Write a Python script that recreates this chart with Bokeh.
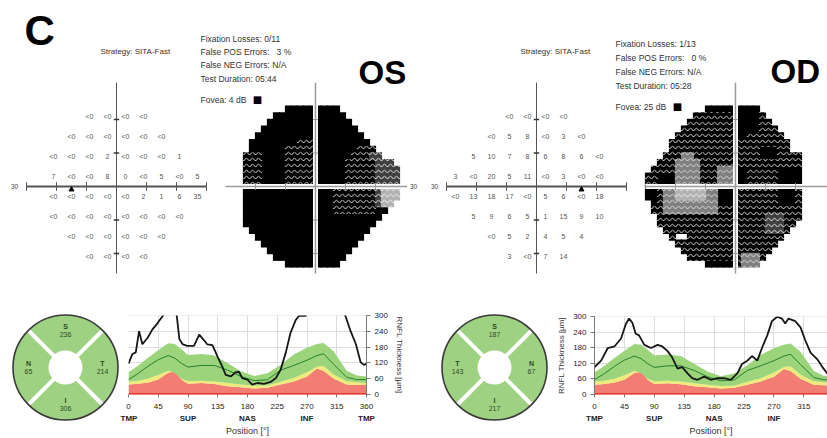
import numpy as np
from bokeh.plotting import figure
from bokeh.models import Range1d, Label, LinearAxis, FixedTicker, Span
from bokeh.layouts import row, column
from bokeh.embed import file_html
from bokeh.resources import INLINE
from bokeh.core.properties import value

FONT = "Liberation Sans"

# ---------------------------------------------------------------- data
# 24-2 visual field test grid (degrees)
VF_ROWS_Y = [21, 15, 9, 3, -3, -9, -15, -21]
OS_ROWS_X = [
    [-9, -3, 3, 9],
    [-15, -9, -3, 3, 9, 15],
    [-21, -15, -9, -3, 3, 9, 15, 21],
    [-21, -15, -9, -3, 3, 9, 15, 21, 27],
    [-21, -15, -9, -3, 3, 9, 15, 21, 27],
    [-21, -15, -9, -3, 3, 9, 15, 21],
    [-15, -9, -3, 3, 9, 15],
    [-9, -3, 3, 9],
]
OD_ROWS_X = [
    [-9, -3, 3, 9],
    [-15, -9, -3, 3, 9, 15],
    [-21, -15, -9, -3, 3, 9, 15, 21],
    [-27, -21, -15, -9, -3, 3, 9, 15, 21],
    [-27, -21, -15, -9, -3, 3, 9, 15, 21],
    [-21, -15, -9, -3, 3, 9, 15, 21],
    [-15, -9, -3, 3, 9, 15],
    [-9, -3, 3, 9],
]
OS_VALUES = [
    ["<0", "<0", "<0", "<0"],
    ["<0", "<0", "<0", "<0", "<0", "<0"],
    ["<0", "<0", "<0", "2", "<0", "<0", "<0", "1"],
    ["7", "<0", "<0", "8", "0", "<0", "5", "<0", "5"],
    ["<0", "<0", "<0", "<0", "<0", "2", "1", "6", "35"],
    ["<0", "<0", "<0", "<0", "<0", "<0", "<0", "<0"],
    ["<0", "<0", "<0", "<0", "<0", "<0"],
    ["<0", "<0", "<0", "<0"],
]
OD_VALUES = [
    ["<0", "<0", "<0", "<0"],
    ["<0", "5", "8", "<0", "3", "<0"],
    ["5", "10", "7", "8", "6", "8", "6", "<0"],
    ["3", "<0", "20", "5", "11", "<0", "3", "<0", "<0"],
    ["<0", "13", "18", "17", "<0", "5", "6", "<0", "18"],
    ["5", "9", "6", "5", "1", "15", "9", "10"],
    ["<0", "5", "2", "4", "5", "4"],
    ["3", "<0", "7", "14"],
]
BLIND_SPOT_X = {"OS": -15, "OD": 15}

# grayscale maps, 2 deg cells, columns from -30 deg, rows from +24 deg
# B black, P dark pattern, D denser pattern, G grey, L light grey
OS_MAP = [
    "          BBBBBBBBB",
    "        BBBBBBBBBBBB",
    "       BBBBBBBBBBBBBB",
    "      BBBBBBBBBBBBBBBB",
    "     BBBBBBBBBBBBBBBBBB",
    "    BBBBBBBBPPPBBBBBBBBB",
    "    BBBBBBPPPPPBBBBBBBPPP",
    "   PPPBBBBPPPPPBBBBBBPPPDD",
    "   PPPBBBBPPPPPBBBBBPPPPPDDD",
    "   PPPBBBBPPPPPBBBBBPPPPPDDDD",
    "   PPPBBBBPPPPPBBBBBPPPPPDDDD",
    "   PPPBBBBPPPPPBBBBBPPPPPDDDD",
    "   BBBBBBBBBBBBBBBPPPPPPPDLLL",
    "   BBBBBBBBBBBBBBBPPPPPPPDLLL",
    "   BBBBBBBBBBBBBBBPPPPPPPDLL",
    "   BBBBBBBBBBBBBBBPPPPPPPBB",
    "   BBBBBBBBBBBBBBBBBBBBBBB",
    "   BBBBBBBBBBBBBBBBBBBBBB",
    "    BBBBBBBBBBBBBBBBBBBB",
    "     BBBBBBBBBBBBBBBBBB",
    "      BBBBBBBBBBBBBBBB",
    "       BBBBBBBBBBBBBB",
    "        BBBBBBBBBBBB",
    "          BBBBBBBBB",
]
OD_MAP = [
    "          BBBBBBBBB",
    "        PPPPPPPBBBBP",
    "       PPPPPPPPBBBBPP",
    "      PPPPPPPPPBBBBPPP",
    "     PPPPPPPPPPBBPPPPPP",
    "    PPPPPPPPPPPPPPPPPPPP",
    "    PPPPPPPPPPPPPPPBBBPP",
    "   PPPGGPPPPPPPPPPPBBBPPPP",
    "  PPPGGGGPPPPPPPPPPPPPPPPP",
    " PPPPGGGGPPPGGGBBPPPPPBBBB",
    "PPBBBGGGGPPPGGGBBPPPPPBBBB",
    "PPBBBGGGGPPPGGGBBPPPPPBBBB",
    "BBPGGLLLLLGGBBBPPPPPPPBBBP",
    "BBPGGLLLLLGGBBBPPPPPPPBBBP",
    " BPGGGGGGGGGBBBPPPPPPPBBBP",
    " PPGGGGGGGGGPPPPPPPPPPPPPP",
    "  PPPPPPPPPPPPPPPPPPDDDPPP",
    "  PPPPPPPPPPPPPPPPPPDDDPP",
    "   PPPPPPPPPPPPPPPPPDDDP",
    "    P  PPPPPPPPPPPPPPPP",
    "     PPPPPPPPPPPPPPPPP",
    "      PPPPPPPPPPPPPPP",
    "       PPPPPPPPPGGGP",
    "          BBBBBPGGG",
]

# sector (quadrant) thickness
SECTOR_ANGLES = [0, 90, 180, 270]
OS_SECTOR_NAMES = ["T", "S", "N", "I"]
OS_SECTOR_VALUES = [214, 236, 65, 306]
OD_SECTOR_NAMES = ["N", "S", "T", "I"]
OD_SECTOR_VALUES = [67, 187, 143, 217]

# RNFL normative bands (um) versus position (deg)
NORM_POS = [0, 15, 30, 45, 60, 70, 80, 90, 110, 130, 150, 170, 190, 210,
            230, 250, 270, 285, 295, 310, 330, 345, 360]
RED_TOP = [37, 40, 45, 56, 82, 88, 56, 40, 43, 39, 31, 27, 22, 25,
           37, 49, 68, 98, 90, 60, 37, 35, 35]
YEL_TOP = [48, 52, 60, 74, 90, 82, 60, 50, 52, 49, 43, 37, 32, 33,
           48, 62, 84, 105, 108, 75, 50, 46, 43]
GRN_TOP = [84, 110, 140, 168, 195, 192, 172, 150, 154, 148, 118, 88, 70, 80,
           112, 152, 178, 192, 196, 165, 90, 72, 68]
MEAN = [56, 80, 108, 132, 148, 138, 118, 104, 110, 110, 92, 68, 52, 55,
        92, 110, 130, 148, 155, 115, 65, 56, 56]

OS_POS = [0, 6, 11, 16, 21, 29, 36, 44, 52, 58, 68, 73, 77, 82, 89, 99, 107,
          113, 119, 127, 135, 142, 147, 155, 162, 167, 172, 180, 187, 195,
          205, 215, 223, 230, 238, 245, 253, 258, 268, 275, 300, 322, 328,
          336, 344, 351, 356, 360]
OS_THK = [117, 154, 160, 241, 191, 216, 247, 272, 300, 330, 330, 300, 210,
          191, 185, 185, 228, 210, 191, 188, 142, 105, 74, 68, 84, 86, 62,
          56, 37, 43, 40, 47, 62, 93, 160, 234, 284, 300, 300, 330, 340,
          330, 300, 241, 191, 123, 112, 117]
OD_POS = [0, 10, 20, 30, 40, 47, 52, 57, 62, 67, 75, 85, 95, 102, 110, 117,
          125, 132, 140, 147, 155, 165, 175, 185, 195, 205, 215, 222, 230,
          237, 245, 252, 260, 267, 275, 282, 287, 292, 302, 310, 317, 325,
          335, 343, 350, 360]
OD_THK = [105, 130, 179, 185, 216, 271, 293, 277, 234, 228, 191, 179, 191,
          185, 167, 142, 99, 105, 81, 62, 56, 68, 56, 62, 62, 56, 81, 117,
          130, 148, 130, 179, 228, 283, 300, 293, 274, 293, 283, 259, 210,
          161, 136, 105, 81, 70]

POS_TICKS = [0, 45, 90, 135, 180, 225, 270, 315, 360]
REGION_TICKS = {0: "TMP", 90: "SUP", 180: "NAS", 270: "INF", 360: "TMP"}
THK_TICKS = [0, 60, 120, 180, 240, 300]

OS_INFO = ["Fixation Losses: 0/11", "False POS Errors:\u00a0\u00a0 3 %",
           "False NEG Errors: N/A", "Test Duration: 05:44"]
OD_INFO = ["Fixation Losses: 1/13", "False POS Errors:\u00a0\u00a0 0 %",
           "False NEG Errors: N/A", "Test Duration: 05:28"]

# ---------------------------------------------------------------- style
PXX, PXY = 3.0, 3.35
CY_REF = 186
TOP_H, BOT_H = 293, 145
GRAY_OFFSET = 66.33
SECT_GREEN = "#9fd182"
GRN, YEL, RED = "#9cd47c", "#efea7a", "#f27e73"
HATCH = dict(hatch_pattern="horizontal_wave", hatch_color="white", hatch_scale=6)
LEVELS = {
    "B": dict(fill_color="black"),
    "P": dict(fill_color="black", hatch_weight=1.0, hatch_alpha=0.85, **HATCH),
    "D": dict(fill_color="#404040", hatch_weight=1.0, hatch_alpha=0.9, **HATCH),
    "G": dict(fill_color="#808080", hatch_weight=1.0, hatch_alpha=0.7, **HATCH),
    "L": dict(fill_color="#b2b2b2", hatch_weight=1.0, hatch_alpha=0.8, **HATCH),
}
SEAM = 0.2   # overlap of grayscale cells (deg) to hide anti-alias seams


def lab(p, x, y, text, size="8.5px", bold=False, align="left", base="middle",
        color="#333333", font=FONT):
    p.add_layout(Label(x=x, y=y, text=text, text_font_size=size, text_font=font,
                       text_font_style="bold" if bold else "normal",
                       text_align=align, text_baseline=base, text_color=color))


def base_fig(**kw):
    p = figure(output_backend="svg", toolbar_location=None, **kw)
    try:
        p.frame_align = False
    except Exception:
        pass
    return p


def top_panel(width, ref_left, ref_cx, eye, rows_x, vals, gmap, info, fovea,
              info_x, info_y, strat_x, big_x, big_mid, fovea_sq_x):
    x0 = (ref_left - ref_cx) / PXX
    x1 = (ref_left + width - ref_cx) / PXX
    y1 = CY_REF / PXY
    y0 = (CY_REF - TOP_H) / PXY
    p = base_fig(width=width, height=TOP_H, x_range=Range1d(x0, x1), y_range=Range1d(y0, y1),
                 x_axis_location=None, y_axis_location=None, min_border=0)
    p.grid.visible = False
    p.outline_line_color = None

    def at(rx, ry):
        return (rx - ref_cx) / PXX, (CY_REF - ry) / PXY

    # ---- numeric field
    xs, ys, ts = [], [], []
    for yv, rx, rv in zip(VF_ROWS_Y, rows_x, vals):
        xs += rx
        ys += [yv] * len(rx)
        ts += rv
    p.segment(x0=[-30], y0=[0], x1=[30], y1=[0], line_color="#555555", line_width=2)
    p.segment(x0=[0], y0=[31], x1=[0], y1=[-26], line_color="#555555", line_width=1)
    p.segment(x0=[-30, 30, -20, -10, 10, 20], y0=[-1.3] * 6,
              x1=[-30, 30, -20, -10, 10, 20], y1=[1.3] * 6, line_color="#555555", line_width=1)
    p.segment(x0=[-0.9] * 4, y0=[-20, -10, 10, 20], x1=[0.9] * 4, y1=[-20, -10, 10, 20],
              line_color="#333333", line_width=1.5)
    p.text(x=xs, y=ys, text=ts, text_font=value(FONT), text_font_size="7px",
           text_color="#555555", text_align="center", text_baseline="middle")
    p.scatter(x=[BLIND_SPOT_X[eye]], y=[-0.9], marker="triangle", size=5, color="black")
    lab(p, -34, 0, "30", size="6.5px", align="center", color="#444444")

    # ---- grayscale
    for lev, style in LEVELS.items():
        L, R, T, Bt = [], [], [], []
        for j, rowstr in enumerate(gmap):
            for i, ch in enumerate(rowstr):
                if ch == lev:
                    L.append(-30 + 2 * i + GRAY_OFFSET - SEAM)
                    R.append(-28 + 2 * i + GRAY_OFFSET + SEAM)
                    T.append(24 - 2 * j + SEAM)
                    Bt.append(22 - 2 * j - SEAM)
        if L:
            p.quad(left=L, right=R, top=T, bottom=Bt, line_color=None, **style)
    g = GRAY_OFFSET
    p.segment(x0=[g - 30, g], y0=[0, 31], x1=[g + 30.5, g], y1=[0, -26],
              line_color="white", line_width=5)
    p.segment(x0=[g - 30, g], y0=[0, 31], x1=[g + 30.5, g], y1=[0, -26],
              line_color="#9a9a9a", line_width=1.5)
    p.segment(x0=[g - 20, g - 10, g + 10, g + 20], y0=[-1.0] * 4,
              x1=[g - 20, g - 10, g + 10, g + 20], y1=[1.0] * 4, line_color="#9a9a9a", line_width=1)
    p.segment(x0=[g - 0.8] * 4, y0=[-20, -10, 10, 20], x1=[g + 0.8] * 4, y1=[-20, -10, 10, 20],
              line_color="#9a9a9a", line_width=1)
    if eye == "OS":
        lab(p, g + 31.5, 0, "30", size="6.5px", color="#444444")

    # ---- texts
    if eye == "OS":
        cx, cy = at(24, 30)
        lab(p, cx, cy, "C", size="42px", bold=True, color="black")
    sx, sy = at(strat_x, 51)
    lab(p, sx, sy, "Strategy: SITA-Fast", size="8px")
    for t, yy in zip(info, info_y[:4]):
        tx, ty = at(info_x, yy)
        lab(p, tx, ty, t)
    fx, fy = at(info_x, info_y[4])
    lab(p, fx, fy, fovea)
    qx, qy = at(fovea_sq_x, info_y[4])
    lab(p, qx, qy, "\u25A0", size="10px", align="center", color="black", font="DejaVu Sans")
    bx, by = at(big_x, big_mid)
    lab(p, bx, by, eye, size="33px", bold=True, color="black")
    return p


def sector_panel(width, cx, names, vals):
    p = base_fig(width=width, height=BOT_H, x_range=Range1d(-cx, width - cx),
                 y_range=Range1d(-71, 74), x_axis_location=None, y_axis_location=None,
                 min_border=0)
    p.grid.visible = False
    p.outline_line_color = None
    p.annulus(x=[0], y=[0], inner_radius=17, outer_radius=52.5, fill_color=SECT_GREEN,
              line_color=None)
    d = np.radians([45, 135, 225, 315])
    p.segment(x0=list(15 * np.cos(d)), y0=list(15 * np.sin(d)),
              x1=list(52 * np.cos(d)), y1=list(52 * np.sin(d)),
              line_color="white", line_width=4)
    p.circle(x=[0], y=[0], radius=52.5, fill_color=None, line_color="#3a3a3a", line_width=1.6)
    a = np.radians(SECTOR_ANGLES)
    r = 37
    xs = list(r * np.cos(a))
    ys = list(r * np.sin(a))
    p.text(x=xs, y=[y + 4.3 for y in ys], text=names, text_font=value(FONT),
           text_font_size="7px", text_font_style="bold", text_color="#2b4a22",
           text_align="center", text_baseline="middle")
    p.text(x=xs, y=[y - 4.3 for y in ys], text=[str(v) for v in vals], text_font=value(FONT),
           text_font_size="7px", text_color="#2b4a22", text_align="center",
           text_baseline="middle")
    return p


def rnfl_panel(width, pos, thk, side, x_end, bl, br, bt, bb, partial=False):
    p = base_fig(width=width, height=BOT_H, x_range=Range1d(0, x_end), y_range=Range1d(-1, 301),
                 y_axis_location=side, min_border_left=bl, min_border_right=br,
                 min_border_top=bt, min_border_bottom=bb)
    p.outline_line_color = None
    p.xgrid.ticker = FixedTicker(ticks=POS_TICKS)
    p.ygrid.ticker = FixedTicker(ticks=THK_TICKS)
    p.grid.grid_line_color = "#dddddd"
    p.varea(x=NORM_POS, y1=[0] * len(NORM_POS), y2=RED_TOP, fill_color=RED)
    p.varea(x=NORM_POS, y1=RED_TOP, y2=YEL_TOP, fill_color=YEL)
    p.varea(x=NORM_POS, y1=YEL_TOP, y2=GRN_TOP, fill_color=GRN)
    p.line(NORM_POS, MEAN, line_color="#23802c", line_width=1)
    p.add_layout(Span(location=0, dimension="width", line_color="#e3241c", line_width=2))
    p.line(pos, thk, line_color="#161616", line_width=1.8)

    ax1 = p.xaxis[0]
    ax1.ticker = FixedTicker(ticks=POS_TICKS)
    ax1.axis_line_color = None
    ax1.major_tick_line_color = "#777777"
    ax1.major_tick_out = 3
    ax1.major_tick_in = 0
    ax1.minor_tick_line_color = None
    ax1.minor_tick_out = 0
    ax1.major_label_standoff = 6
    ax2 = LinearAxis(ticker=FixedTicker(ticks=list(REGION_TICKS)),
                     major_label_overrides=REGION_TICKS, axis_label="Position [\u00b0]")
    ax2.axis_line_color = None
    ax2.major_tick_line_color = None
    ax2.minor_tick_line_color = None
    ax2.major_tick_out = 0
    ax2.major_tick_in = 0
    ax2.minor_tick_out = 0
    ax2.minor_tick_in = 0
    ax2.major_label_standoff = 2
    ax2.axis_label_standoff = 0
    ax2.major_label_text_font_style = "bold"
    p.add_layout(ax2, "below")
    for ax in (ax1, ax2):
        ax.major_label_text_font = FONT
        ax.major_label_text_font_size = "8px"
        ax.major_label_text_color = "#222222"
    ax2.axis_label_text_font = FONT
    ax2.axis_label_text_font_size = "9px"
    ax2.axis_label_text_font_style = "normal"
    ax2.axis_label_text_color = "#333333"

    ya = p.yaxis[0]
    ya.ticker = FixedTicker(ticks=THK_TICKS)
    ya.axis_label = "RNFL Thickness [\u00b5m]"
    ya.axis_line_color = "#777777"
    ya.major_tick_line_color = "#777777"
    ya.major_tick_out = 4
    ya.major_tick_in = 0
    ya.minor_tick_line_color = None
    ya.minor_tick_out = 0
    ya.major_label_standoff = 4
    ya.major_label_text_font = FONT
    ya.major_label_text_font_size = "8px"
    ya.major_label_text_color = "#222222"
    ya.axis_label_text_font = FONT
    ya.axis_label_text_font_size = "8px"
    ya.axis_label_text_font_style = "normal"
    ya.axis_label_text_color = "#333333"
    ya.axis_label_standoff = 4
    if partial:
        # glyphs cut by the right edge of the original picture
        p.add_layout(Label(x=x_end, y=-52, text="36", text_font=FONT, text_font_size="8px",
                           text_align="right", text_baseline="middle", text_color="#222222"))
        p.add_layout(Label(x=x_end, y=-92, text="TM", text_font=FONT, text_font_size="8px",
                           text_font_style="bold", text_align="right",
                           text_baseline="middle", text_color="#222222"))
    return p


os_top = top_panel(420, 0, 116, "OS", OS_ROWS_X, OS_VALUES, OS_MAP, OS_INFO, "Fovea: 4 dB",
                   200, [38, 51.5, 64.5, 78, 99], 100, 358, 72, 257)
od_top = top_panel(407, 420, 536, "OD", OD_ROWS_X, OD_VALUES, OD_MAP, OD_INFO, "Fovea: 25 dB",
                   615, [43, 57, 71, 85, 106], 520, 770, 71, 677)

os_sec = sector_panel(120, 65, OS_SECTOR_NAMES, OS_SECTOR_VALUES)
os_rnfl = rnfl_panel(300, OS_POS, OS_THK, "right", 360, 8, 54, 22, 43)
od_sec = sector_panel(132, 74, OD_SECTOR_NAMES, OD_SECTOR_VALUES)
od_rnfl = rnfl_panel(275, OD_POS, OD_THK, "left", 350.6, 42, 0, 23, 41, partial=True)

layout = column(row(os_top, od_top), row(os_sec, os_rnfl, od_sec, od_rnfl))
open("out.html", "w").write(file_html(layout, INLINE))
